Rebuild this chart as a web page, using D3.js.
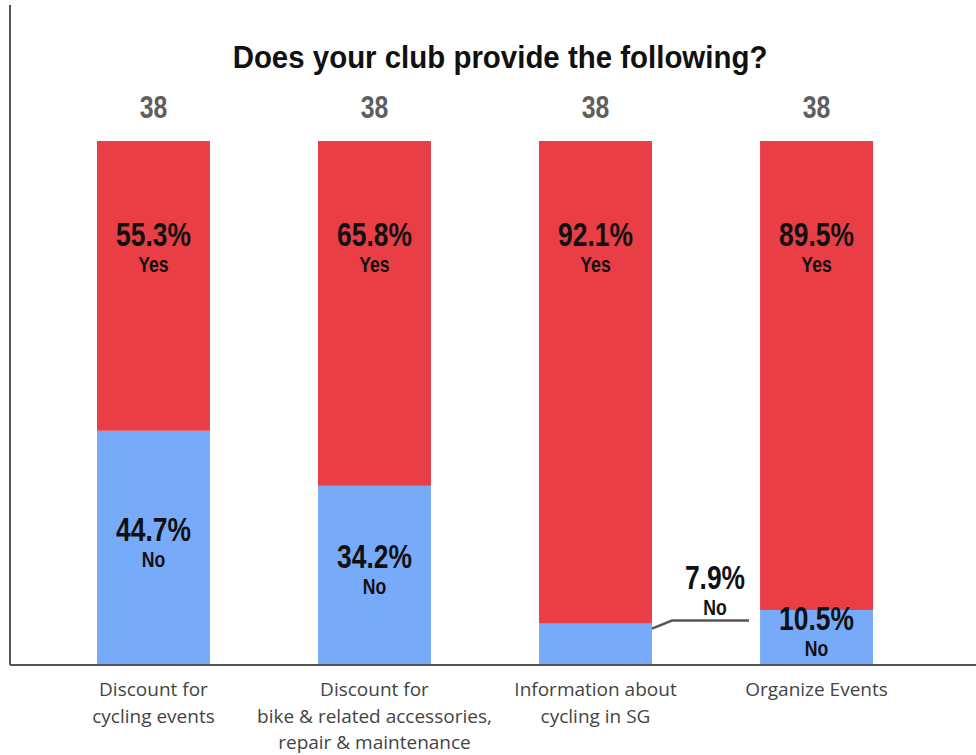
<!DOCTYPE html>
<html>
<head>
<meta charset="utf-8">
<script src="https://cdn.jsdelivr.net/npm/d3@7/dist/d3.min.js"></script>
<style>
  html, body { margin: 0; padding: 0; background: #fff; }
  svg { display: block; }
  .narrow { font-family: "Liberation Sans", Arial, sans-serif; font-weight: bold; }
  .cat { font-family: "Open Sans", "Noto Sans", sans-serif; }
</style>
</head>
<body>
<svg id="chart" width="976" height="755"></svg>
<script>
// Survey: does your club provide the following? (n = 38 per item)
const categories = [
  ["Discount for", "cycling events"],
  ["Discount for", "bike & related accessories,", "repair & maintenance"],
  ["Information about", "cycling in SG"],
  ["Organize Events"]
];
const yesPct = [55.3, 65.8, 92.1, 89.5];
const noPct = [44.7, 34.2, 7.9, 10.5];
const respondents = [38, 38, 38, 38];
const yesLabel = "Yes";
const noLabel = "No";
const title = "Does your club provide the following?";

const colors = { yes: "#E93E45", no: "#77AAF9", axis: "#555555" };
const NARROW = 0.8; // horizontal squeeze for the condensed bold labels

const svg = d3.select("#chart");
const plot = { left: 10, right: 976, top: 141, bottom: 665 };

const ids = categories.map((_, i) => i);
const x = d3.scaleBand()
  .domain(ids)
  .range([97, 873])
  .paddingInner(0.489)
  .paddingOuter(0);

const y = d3.scaleLinear()
  .domain([0, 100])
  .range([plot.bottom, plot.top]);

// stacked data: No at the bottom, Yes on top
const rows = ids.map(i => ({ i, no: noPct[i], yes: yesPct[i] }));
const stack = d3.stack().keys(["no", "yes"])(rows);

svg.append("g")
  .selectAll("g")
  .data(stack)
  .join("g")
  .attr("fill", d => colors[d.key])
  .selectAll("rect")
  .data(d => d)
  .join("rect")
  .attr("x", d => x(d.data.i))
  .attr("width", x.bandwidth())
  .attr("y", d => y(d[1]))
  .attr("height", d => y(d[0]) - y(d[1]));

// axis lines
svg.append("line")
  .attr("x1", plot.left).attr("x2", plot.left)
  .attr("y1", 5).attr("y2", plot.bottom)
  .attr("stroke", colors.axis).attr("stroke-width", 2);
svg.append("line")
  .attr("x1", plot.left).attr("x2", plot.right)
  .attr("y1", plot.bottom).attr("y2", plot.bottom)
  .attr("stroke", colors.axis).attr("stroke-width", 2);

// condensed bold text, anchored at its middle
function narrowText(parent, data, px, py, size, fill, fmt, squeeze = NARROW) {
  return parent.append("g").selectAll("text")
    .data(data).join("text")
    .attr("class", "narrow")
    .attr("transform", d => `translate(${px(d)},${py(d)}) scale(${squeeze},1)`)
    .attr("text-anchor", "middle")
    .attr("font-size", size)
    .attr("fill", fill)
    .text(fmt);
}

const cx = i => x(i) + x.bandwidth() / 2;

// title
narrowText(svg, [title], () => 500, () => 68, 31, "#111", d => d, 0.95);

// respondent counts above bars
narrowText(svg, ids, cx, () => 118, 31, "#5e5e5e", i => respondents[i]);

// Yes labels in the upper part of the red segment
narrowText(svg, ids, cx, () => y(100) + 105, 33, "#111", i => yesPct[i].toFixed(1) + "%");
narrowText(svg, ids, cx, () => y(100) + 131, 22, "#111", () => yesLabel);

// No labels: inside the blue segment when it is tall enough, else beside it with a leader
const minInside = 9;
const inside = ids.filter(i => noPct[i] >= minInside);
const outside = ids.filter(i => noPct[i] < minInside);

narrowText(svg, inside, cx, i => y(noPct[i] / 2) - 7, 33, "#111", i => noPct[i].toFixed(1) + "%");
narrowText(svg, inside, cx, i => y(noPct[i] / 2) + 19, 22, "#111", () => noLabel);

const right = i => x(i) + x.bandwidth();
svg.append("g").selectAll("path")
  .data(outside).join("path")
  .attr("fill", "none").attr("stroke", colors.axis).attr("stroke-width", 2.5)
  .attr("d", i => {
    const ly = y(noPct[i]) - 3;
    return `M${right(i)},${y(noPct[i]) + 5}L${right(i) + 20},${ly}L${right(i) + 97},${ly}`;
  });
narrowText(svg, outside, i => right(i) + 63, i => y(noPct[i]) - 35, 33, "#111", i => noPct[i].toFixed(1) + "%");
narrowText(svg, outside, i => right(i) + 63, i => y(noPct[i]) - 9, 22, "#111", () => noLabel);

// category labels under the axis
svg.append("g").selectAll("text").data(ids).join("text")
  .attr("class", "cat")
  .attr("text-anchor", "middle")
  .attr("font-size", 19)
  .attr("fill", "#444")
  .selectAll("tspan")
  .data(i => categories[i].map((line, k) => ({ line, k, i })))
  .join("tspan")
  .attr("x", d => cx(d.i))
  .attr("y", d => 696 + d.k * 26.5)
  .text(d => d.line);
</script>
</body>
</html>
